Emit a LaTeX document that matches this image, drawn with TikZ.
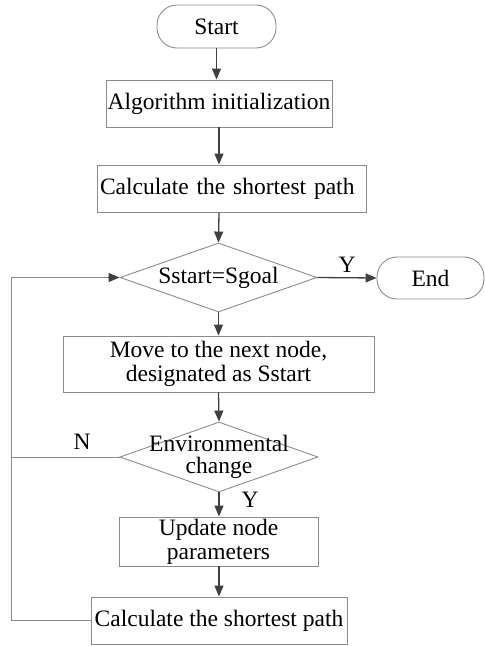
\documentclass[tikz,border=0pt]{standalone}
\usepackage{fontspec}
\setmainfont{Liberation Serif}
\usetikzlibrary{arrows.meta,shapes.geometric}
\definecolor{boxgray}{HTML}{8C8C8C}
\definecolor{arrgray}{HTML}{404040}
\begin{document}
\begin{tikzpicture}[x=1pt,y=-1pt,
  every node/.style={font=\fontsize{23.5}{24}\selectfont, text=black},
  box/.style={draw=boxgray, line width=0.9pt, rectangle, inner sep=0pt, align=center},
  pill/.style={box, rounded corners=20pt},
  dia/.style={draw=boxgray, line width=0.9pt, diamond, inner sep=0pt},
  arr/.style={draw=arrgray, line width=1.3pt, -{Triangle[length=11pt,width=9pt]}},
  loop/.style={draw=boxgray, line width=0.9pt},
  lbl/.style={inner sep=0pt}
]
\useasboundingbox (0,0) rectangle (485,646);

\node[pill, minimum width=119pt, minimum height=43pt] (start) at (216.5,26.5) {Start};
\node[box, minimum width=226pt, minimum height=47pt] (alg) at (219,103.5) {Algorithm initialization};
\node[box, minimum width=269pt, minimum height=47pt, inner xsep=3pt, text width=263pt, align=left] (calc1) at (231.5,188.5) {Calculate the shortest path};
\node[dia, minimum width=197pt, minimum height=69pt] (d1) at (218.5,277.5) {};
\node[lbl] (d1t) at (d1.center) {Sstart=Sgoal};
\node[pill, minimum width=107pt, minimum height=42pt] (end) at (430.5,278) {End};
\node[box, minimum width=311pt, minimum height=56pt] (move) at (218.5,364) {Move to the next node,\\designated as Sstart};
\node[dia, minimum width=198pt, minimum height=70pt] (d2) at (219,457) {};
\node[lbl, align=center, font=\fontsize{23.5}{22}\selectfont] (d2t) at (d2.center) {Environmental\\change};
\node[box, minimum width=199pt, minimum height=49pt] (upd) at (218.5,541.5) {Update node\\parameters};
\node[box, minimum width=256pt, minimum height=47pt] (calc2) at (219,620.5) {Calculate the shortest path};

\coordinate (lx) at (11,0);

\draw[arr] (start.south) -- (start.south |- alg.north);
\draw[arr] (alg.south) -- (alg.south |- calc1.north);
\draw[arr] (alg.south |- calc1.south) -- (d1.north);
\draw[arr] (d1.east) -- (end.west) node[lbl, pos=0.5, above=5pt] (yl1) {Y};
\draw[arr] (d1.south) -- (d1.south |- move.north);
\draw[arr] (d1.south |- move.south) -- (d2.north);
\draw[arr] (d2.south) -- (d2.south |- upd.north);
\node[lbl] (yl2) at (250,500) {Y};
\draw[arr] (d2.south |- upd.south) -- (d2.south |- calc2.north);

\draw[loop] (calc2.west) -- (calc2.west -| lx) -- (lx |- d1.west) -- ([xshift=-12pt]d1.west);
\draw[arr] ([xshift=-12pt]d1.west) -- (d1.west);
\draw[loop] (d2.west) -- (d2.west -| lx);
\node[lbl] (nl) at (82,442) {N};
\end{tikzpicture}
\end{document}
